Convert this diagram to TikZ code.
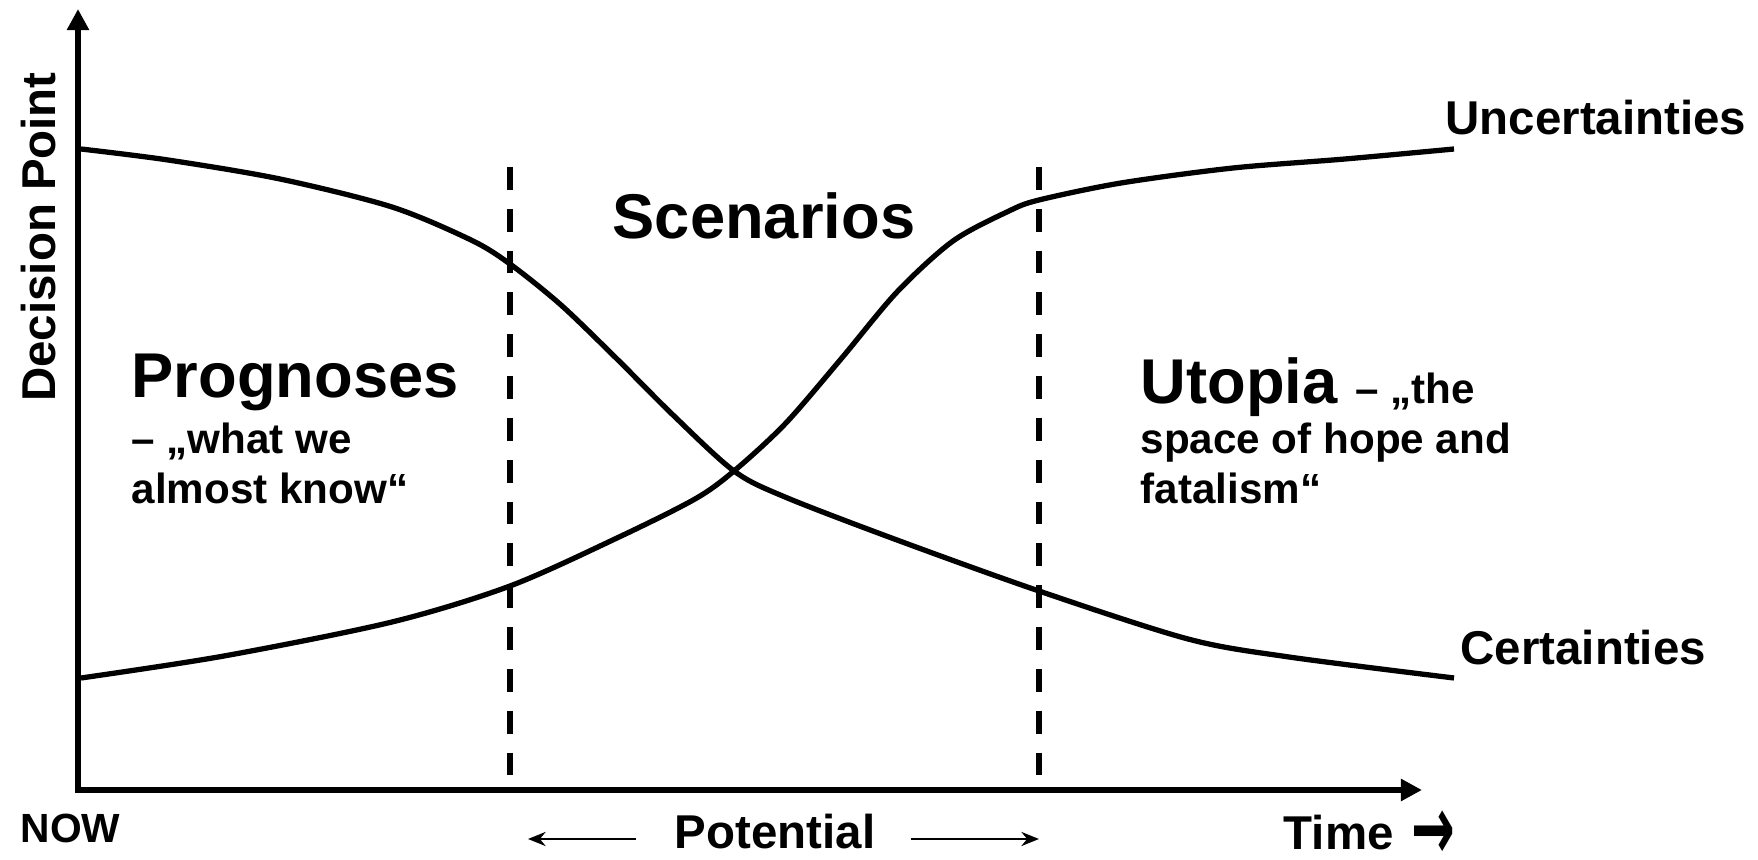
\documentclass[tikz,border=0pt]{standalone}
\usepackage{fontspec}
\setmainfont{Liberation Sans}
\newfontfamily\arrowfont{DejaVu Sans}
\usetikzlibrary{arrows.meta, positioning}

\begin{document}
\begin{tikzpicture}[
    x=0.1mm, y=-0.1mm,
    axisline/.style={
        line width=1.7pt,
        line join=miter,
        {Triangle[length=6pt,width=6pt]}-{Triangle[length=6pt,width=6pt]}
    },
    curve/.style={
        line width=1.5pt,
        smooth,
        tension=0.5
    },
    divider/.style={
        line width=1.5pt,
        dash pattern=on 6.5pt off 5.4pt
    },
    arrow/.style={
        -{Stealth[length=5pt,width=4pt]},
        line width=0.8pt
    },
    title/.style={
        font=\bfseries\fontsize{18}{21}\selectfont,
        inner sep=0pt
    },
    note/.style={
        font=\bfseries\fontsize{12}{14}\selectfont,
        inner sep=0pt
    },
    tag/.style={
        font=\bfseries\fontsize{13.5}{16}\selectfont,
        inner sep=0pt
    }
]
\useasboundingbox (0,0) rectangle (1758,860);

% Axes
\coordinate (ytop) at (78,9);
\coordinate (origin) at (78,790);
\coordinate (xend) at (1422,790);
\draw[axisline] (ytop) -- (origin) -- (xend);

% Dividers
\coordinate (leftup) at (510,167);
\coordinate (leftdown) at (510,780);
\coordinate (rightup) at (1039,167);
\coordinate (rightdown) at (1039,780);
\draw[divider] (leftup) -- (leftdown);
\draw[divider] (rightup) -- (rightdown);

% Curves
\draw[curve] plot coordinates {(81,678) (224,656) (392,622) (510,586) (617,538)
    (695,499) (734,471) (785,424) (841,359) (897,292) (953,241) (1009,211)
    (1039,200) (1121,183) (1233,168) (1345,159) (1454,149)};
\draw[curve] plot coordinates {(81,149) (168,160) (280,179) (392,207) (471,240)
    (510,264) (561,305) (617,359) (673,415) (734,471) (785,497) (897,540)
    (1039,591) (1188,639) (1289,657) (1454,678)};

% Curve names
\node[tag, anchor=base west] (uncert) at (1445,135) {Uncertainties};
\node[tag, anchor=base west] (cert) at (1460,665) {Certainties};

% Regions
\node[title, anchor=base] (scenarios) at (764,239) {Scenarios};

\node[title, anchor=base west] (prognoses) at (131,398) {Prognoses};
\node[note, anchor=base west] (prognosesa) at (131,454) {– „what we};
\node[note, anchor=base west] (prognosesb) at (131,504) {almost know“};

\node[title, anchor=base west] (utopia) at (1140,404) {Utopia {\fontsize{12}{14}\selectfont– „the}};
\node[note, anchor=base west] (utopiaa) at (1140,454) {space of hope and};
\node[note, anchor=base west] (utopiab) at (1140,504) {fatalism“};

% Axis labels
\node[tag, anchor=base, rotate=90] (decision) at (56,237) {Decision Point};
\node[note, anchor=base west, font=\bfseries\fontsize{11.6}{14}\selectfont] (now) at (20,843) {NOW};
\node[tag, anchor=base] (potential) at (775,849) {Potential};
\node[tag, anchor=base west] (time) at (1283,850)
    {Time\hspace{5pt}\raisebox{-2.8pt}[0pt][0pt]{\scalebox{1.1}[1.9]{\arrowfont →}}};

\coordinate (potla) at (636,839);
\coordinate (potlb) at (528,839);
\coordinate (potra) at (911,839);
\coordinate (potrb) at (1039,839);
\draw[arrow] (potla) -- (potlb);
\draw[arrow] (potra) -- (potrb);

\end{tikzpicture}
\end{document}
